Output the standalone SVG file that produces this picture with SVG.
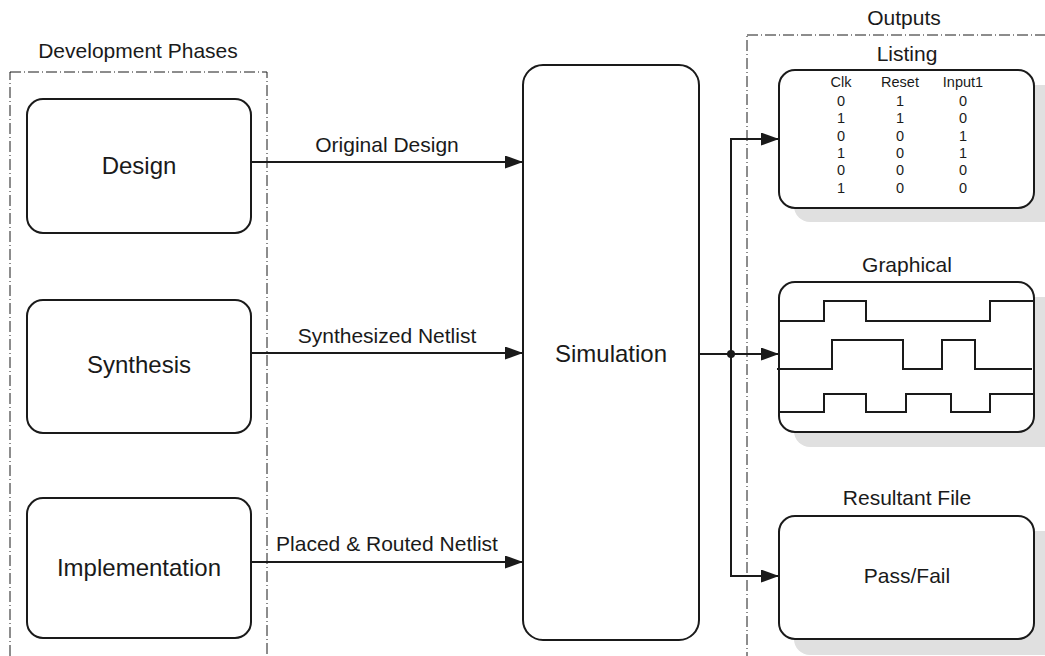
<svg xmlns="http://www.w3.org/2000/svg" width="1045" height="656" viewBox="0 0 1045 656">
  <style>
    .t { font-family: "Liberation Sans", Arial, sans-serif; fill: #1a1a1a; text-anchor: middle; }
    .box { fill: #fff; stroke: #1a1a1a; stroke-width: 2; }
    .shadow { fill: #e0e0e0; }
    .frame { fill: none; stroke: #1a1a1a; stroke-width: 1; stroke-dasharray: 11 3 1 3; }
    .wire { fill: none; stroke: #1a1a1a; stroke-width: 2; }
    .wave { fill: none; stroke: #1a1a1a; stroke-width: 2; }
  </style>
  <defs>
    <marker id="arrow" markerWidth="18" markerHeight="13" refX="18" refY="6.5" orient="auto" markerUnits="userSpaceOnUse">
      <path d="M0,0 L18,6.5 L0,13 Z" fill="#1a1a1a"/>
    </marker>
  </defs>
  <rect width="1045" height="656" fill="#fff"/>

  <!-- grouping frames -->
  <g id="development-phases">
    <rect class="frame" x="10" y="72" width="257" height="620"/>
    <text class="t" x="138" y="58" font-size="21">Development Phases</text>
  </g>
  <g id="outputs">
    <rect class="frame" x="747" y="35" width="320" height="660"/>
    <text class="t" x="904" y="25" font-size="21">Outputs</text>
  </g>

  <!-- phase nodes -->
  <g id="design">
    <rect class="box" x="27" y="99" width="224" height="134" rx="16"/>
    <text class="t" x="139" y="174" font-size="24">Design</text>
  </g>
  <g id="synthesis">
    <rect class="box" x="27" y="300" width="224" height="133" rx="16"/>
    <text class="t" x="139" y="373" font-size="24">Synthesis</text>
  </g>
  <g id="implementation">
    <rect class="box" x="27" y="498" width="224" height="140" rx="16"/>
    <text class="t" x="139" y="576" font-size="24">Implementation</text>
  </g>

  <g id="simulation">
    <rect class="box" x="523" y="65" width="176" height="575" rx="20"/>
    <text class="t" x="611" y="362" font-size="24">Simulation</text>
  </g>

  <!-- output nodes -->
  <g id="listing">
    <text class="t" x="907" y="61" font-size="21">Listing</text>
    <rect class="shadow" x="794" y="85" width="270" height="137" rx="16"/>
    <rect class="box" x="779" y="70" width="255" height="138" rx="16"/>
    <g font-size="14.5">
      <text class="t" x="841" y="87">Clk</text>
      <text class="t" x="900" y="87">Reset</text>
      <text class="t" x="963" y="87">Input1</text>
      <text class="t" x="841" y="106">0</text><text class="t" x="900" y="106">1</text><text class="t" x="963" y="106">0</text>
      <text class="t" x="841" y="123">1</text><text class="t" x="900" y="123">1</text><text class="t" x="963" y="123">0</text>
      <text class="t" x="841" y="141">0</text><text class="t" x="900" y="141">0</text><text class="t" x="963" y="141">1</text>
      <text class="t" x="841" y="158">1</text><text class="t" x="900" y="158">0</text><text class="t" x="963" y="158">1</text>
      <text class="t" x="841" y="175">0</text><text class="t" x="900" y="175">0</text><text class="t" x="963" y="175">0</text>
      <text class="t" x="841" y="193">1</text><text class="t" x="900" y="193">0</text><text class="t" x="963" y="193">0</text>
    </g>
  </g>
  <g id="graphical">
    <text class="t" x="907" y="272" font-size="21">Graphical</text>
    <rect class="shadow" x="794" y="297" width="270" height="150" rx="16"/>
    <rect class="box" x="779" y="282" width="255" height="150" rx="16"/>
    <path class="wave" d="M779,321 H824 V301 H866 V321 H990 V301 H1034"/>
    <path class="wave" d="M777,369 H832 V340 H903 V369 H942 V340 H975 V369 H1032"/>
    <path class="wave" d="M779,412 H824 V394 H866 V412 H906 V394 H951 V412 H990 V394 H1034"/>
  </g>
  <g id="resultant-file">
    <text class="t" x="907" y="505" font-size="21">Resultant File</text>
    <rect class="shadow" x="794" y="531" width="270" height="124" rx="16"/>
    <rect class="box" x="779" y="516" width="255" height="123" rx="16"/>
    <text class="t" x="907" y="583" font-size="21">Pass/Fail</text>
  </g>

  <!-- connectors -->
  <g id="connectors">
    <line class="wire" x1="251" y1="162" x2="523" y2="162" marker-end="url(#arrow)"/>
    <text class="t" x="387" y="152" font-size="21">Original Design</text>
    <line class="wire" x1="251" y1="353" x2="523" y2="353" marker-end="url(#arrow)"/>
    <text class="t" x="387" y="343" font-size="21">Synthesized Netlist</text>
    <line class="wire" x1="251" y1="562" x2="523" y2="562" marker-end="url(#arrow)"/>
    <text class="t" x="387" y="551" font-size="21">Placed &amp; Routed Netlist</text>

    <line class="wire" x1="699" y1="354" x2="779" y2="354" marker-end="url(#arrow)"/>
    <path class="wire" d="M779,139 H731 V576 H779" marker-end="url(#arrow)"/>
    <line class="wire" x1="740" y1="139" x2="779" y2="139" marker-end="url(#arrow)"/>
    <circle cx="731" cy="354" r="4" fill="#1a1a1a"/>
  </g>
</svg>
